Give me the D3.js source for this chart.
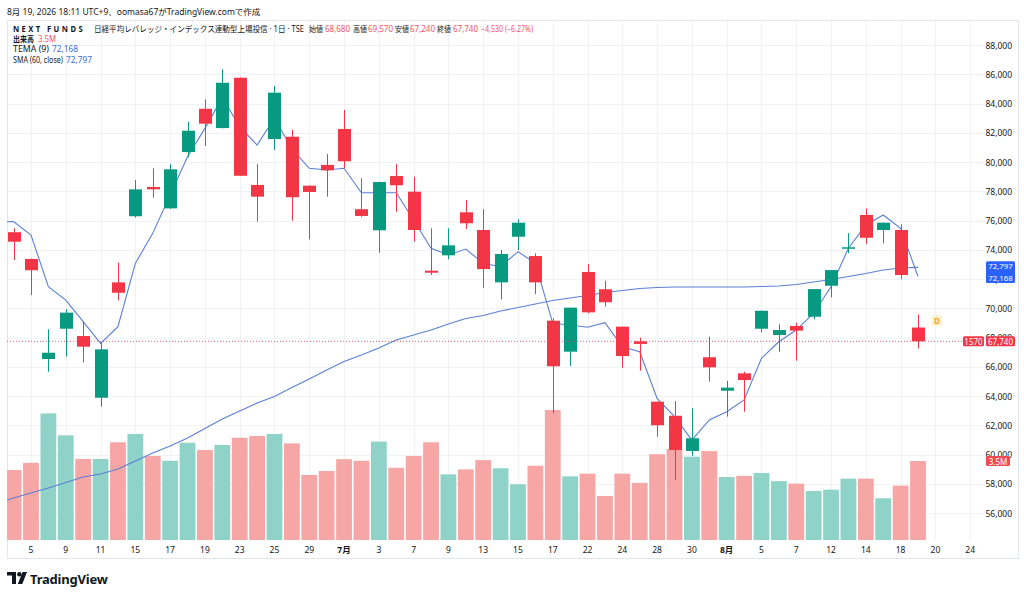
<!DOCTYPE html>
<head>
  <meta charset="utf-8">
  <script src="https://d3js.org/d3.v7.min.js"></script>
  <style>
    body { margin:0; background:#fff; }
    text { font-family: "Noto Sans", "Noto Sans CJK JP", sans-serif; }
  </style>
</head>
<body>
<script>

// 日付（取引日）
var dates = ["6/4","6/5","6/8","6/9","6/10","6/11","6/12","6/15","6/16","6/17",
  "6/18","6/19","6/22","6/23","6/24","6/25","6/26","6/29","6/30","7/1",
  "7/2","7/3","7/6","7/7","7/8","7/9","7/10","7/13","7/14","7/15",
  "7/16","7/17","7/21","7/22","7/23","7/24","7/27","7/28","7/29","7/30",
  "7/31","8/3","8/4","8/5","8/6","8/7","8/10","8/12","8/13","8/14",
  "8/17","8/18","8/19"];

var opens = [75200,73370,66530,68600,68100,63880,71770,76290,78290,76830,
  80680,83640,82320,85760,78430,81570,81730,78380,79800,82260,
  76770,75330,79040,77970,72570,73620,76560,75350,71770,74890,
  73570,69150,67030,72480,71300,68740,67740,63610,62650,60240,
  66650,64360,65550,68600,68170,68790,69420,71540,74100,76380,
  75350,75350,68680];
var highs = [75470,73400,68560,69930,69130,67640,73120,78770,79570,79860,
  82760,84290,86340,85780,79860,85200,82190,78400,80550,83560,
  78890,78650,79860,79000,75470,75470,77400,76770,73980,76080,
  73760,69310,70050,73030,71880,68750,67990,63620,63660,63160,
  68060,65030,65660,69840,68900,69010,71320,72620,75130,76830,
  75860,75740,69570];
var lows = [73300,70900,65660,66690,66300,63270,70520,76200,77560,76800,
  80320,81090,82300,79050,75920,80820,75990,74710,77630,79570,
  76250,73800,76600,74550,72270,73350,75420,71400,70610,73980,
  70970,62820,66050,69650,70110,65930,65730,61220,58260,59900,
  64980,62590,62930,68350,67030,66410,69240,70750,73760,74390,
  74440,71980,67240];
var closes = [74550,72600,66960,69700,67370,67190,71060,78130,78130,79500,
  82140,82620,85420,79060,77630,84740,77590,77950,79430,80050,
  76310,78630,78410,75350,72430,74300,75810,72680,73710,75850,
  71770,66030,70040,69720,70410,66730,67560,62000,60310,61110,
  65960,64570,65090,69830,68510,68470,71310,72610,74170,74820,
  75850,72270,67740];
// 出来高（百万）
var volumes = [3.10,3.42,5.61,4.64,3.59,3.59,4.33,4.70,3.72,3.51,
  4.31,3.99,4.21,4.53,4.61,4.70,4.28,2.88,3.06,3.58,
  3.51,4.36,3.20,3.72,4.33,2.91,3.13,3.54,3.18,2.47,
  3.29,5.76,2.82,2.94,1.95,2.94,2.53,3.80,4.03,3.69,
  3.94,2.79,2.84,2.97,2.61,2.50,2.17,2.23,2.72,2.72,
  1.85,2.41,3.50];
// TEMA(9) と SMA(60) : 先頭は1本前（6/3）の値
var tema = [75900,75920,75010,71470,70560,69080,67600,68740,73070,75120,
  77740,80360,82300,84400,82410,81160,83010,80890,79570,79450,
  79570,77900,77900,77900,76030,74100,73640,74050,73070,72840,
  73870,73070,68970,68860,68700,69010,67370,67030,63840,62590,
  60990,62360,62930,63730,66580,67710,68510,69660,71470,74100,
  75690,76380,75470,72168];
var sma = [56650,57030,57370,57710,58085,58460,58670,59010,59560,60100,
  60580,61130,61780,62430,62975,63520,63970,64580,65160,65780,
  66360,66800,67280,67830,68170,68510,68920,69300,69500,69810,
  70050,70290,70530,70700,70870,71080,71210,71350,71420,71450,
  71450,71450,71450,71450,71490,71520,71620,71800,71970,72170,
  72380,72620,72750,72797];

var priceTicks = d3.range(56000, 88001, 2000);
var timeTickIdx = d3.range(1, 56, 2);
var timeTickLabels = ["5","9","11","15","17","19","23","25","29","7月",
  "3","7","9","13","15","17","22","24","28","30",
  "8月","5","7","12","14","18","20","24"];

var upColor = "#089981", downColor = "#f23645";
var lineColor = "#5a7fd4";

var w = 1024, h = 596;
var plotLeft = 7, plotRight = 985, plotTop = 20, plotBottom = 540;

var xScale = d3.scaleLinear().domain([0, 52]).range([13.6, 918]);
var yScale = d3.scaleLinear().domain([56000, 88000]).range([513, 45]);
var vScale = d3.scaleLinear().domain([0, 6]).range([plotBottom, plotBottom - 135.4]);
var fmt = d3.format(",");

var svg = d3.select("body").append("svg")
    .attr("width", w)
    .attr("height", h);

svg.append("rect").attr("width", w).attr("height", h).attr("fill", "#fff");

svg.append("defs").append("clipPath").attr("id", "plot")
  .append("rect")
    .attr("x", plotLeft).attr("y", plotTop)
    .attr("width", plotRight - plotLeft).attr("height", plotBottom - plotTop);

// grille
var grid = svg.append("g").attr("stroke", "#f0f2f6").attr("stroke-width", 1);
grid.selectAll("line.h")
    .data(priceTicks)
    .enter().append("line")
    .attr("x1", plotLeft).attr("x2", plotRight)
    .attr("y1", function(d) { return Math.round(yScale(d)) + 0.5; })
    .attr("y2", function(d) { return Math.round(yScale(d)) + 0.5; });
grid.selectAll("line.v")
    .data(timeTickIdx)
    .enter().append("line")
    .attr("y1", plotTop).attr("y2", plotBottom)
    .attr("x1", function(d) { return Math.round(xScale(d)) + 0.5; })
    .attr("x2", function(d) { return Math.round(xScale(d)) + 0.5; });

// cadre
svg.append("rect")
    .attr("x", plotLeft + 0.5).attr("y", plotTop + 0.5)
    .attr("width", 1018 - plotLeft).attr("height", 558 - plotTop)
    .attr("fill", "none").attr("stroke", "#e3e6ec");

var plot = svg.append("g").attr("clip-path", "url(#plot)");

// volume
var idx = d3.range(dates.length);
plot.selectAll("rect.vol")
    .data(idx)
    .enter().append("rect")
    .attr("x", function(i) { return xScale(i) - 7.9; })
    .attr("width", 15.8)
    .attr("y", function(i) { return vScale(volumes[i]); })
    .attr("height", function(i) { return plotBottom - vScale(volumes[i]); })
    .attr("fill", function(i) { return closes[i] >= opens[i] ? "#8fd2c7" : "#f6a6a4"; });

// lignes SMA / TEMA
var line = d3.line()
    .x(function(d, j) { return xScale(j - 1); })
    .y(function(d) { return yScale(d); });
plot.append("path").datum(sma)
    .attr("d", line).attr("fill", "none")
    .attr("stroke", lineColor).attr("stroke-width", 1.1);
plot.append("path").datum(tema)
    .attr("d", line).attr("fill", "none")
    .attr("stroke", lineColor).attr("stroke-width", 1.1);

// bougies
var candles = plot.selectAll("g.candle")
    .data(idx)
    .enter().append("g")
    .attr("fill", function(i) { return closes[i] >= opens[i] ? upColor : downColor; })
    .attr("stroke", function(i) { return closes[i] >= opens[i] ? upColor : downColor; });
candles.append("line")
    .attr("x1", function(i) { return Math.round(xScale(i)) + 0.5; })
    .attr("x2", function(i) { return Math.round(xScale(i)) + 0.5; })
    .attr("y1", function(i) { return yScale(highs[i]); })
    .attr("y2", function(i) { return yScale(lows[i]); })
    .attr("stroke-width", 1);
candles.append("rect")
    .attr("stroke", "none")
    .attr("x", function(i) { return Math.round(xScale(i)) + 0.5 - 6.5; })
    .attr("width", 13)
    .attr("y", function(i) { return yScale(Math.max(opens[i], closes[i])); })
    .attr("height", function(i) {
        return Math.max(1.5, Math.abs(yScale(opens[i]) - yScale(closes[i])));
    });

// ligne du dernier cours
var last = closes.length - 1;
plot.append("line")
    .attr("x1", plotLeft).attr("x2", plotRight)
    .attr("y1", yScale(closes[last])).attr("y2", yScale(closes[last]))
    .attr("stroke", downColor).attr("stroke-width", 1)
    .attr("stroke-dasharray", "1,2").attr("opacity", 0.8);

// marqueur D (dividende)
svg.append("rect").attr("x", 932).attr("y", 315).attr("width", 10).attr("height", 11)
    .attr("rx", 2).attr("fill", "#fff0d4");
svg.append("text").attr("x", 937).attr("y", 320.5)
    .attr("text-anchor", "middle").attr("dominant-baseline", "central")
    .attr("font-size", 8).attr("font-weight", "bold").attr("fill", "#f7a21b").text("D");

// axe des prix
var yAxis = svg.append("g").attr("font-size", 8.5).attr("fill", "#131722");
yAxis.selectAll("text")
    .data(priceTicks)
    .enter().append("text")
    .attr("x", 1012)
    .attr("y", function(d) { return yScale(d); })
    .attr("text-anchor", "end")
    .attr("dominant-baseline", "central")
    .text(function(d) { return fmt(d); });

// axe du temps
var xAxis = svg.append("g").attr("font-size", 8.5).attr("fill", "#131722");
xAxis.selectAll("text")
    .data(timeTickIdx)
    .enter().append("text")
    .attr("x", function(d) { return xScale(d); })
    .attr("y", 549)
    .attr("text-anchor", "middle")
    .attr("dominant-baseline", "central")
    .attr("font-weight", function(d, j) { return timeTickLabels[j].indexOf("月") > 0 ? "bold" : "normal"; })
    .text(function(d, j) { return timeTickLabels[j]; });

// étiquettes sur l'axe
function tagBox(x, y0, wd, ht, col) {
    svg.append("rect").attr("x", x).attr("y", y0).attr("width", wd).attr("height", ht)
        .attr("rx", 1.5).attr("fill", col);
}
function tagText(x, y, txt, fs) {
    svg.append("text").attr("x", x).attr("y", y)
        .attr("text-anchor", "middle").attr("dominant-baseline", "central")
        .attr("font-size", fs || 8).attr("fill", "#fff").text(txt);
}
var ySma = yScale(sma[sma.length - 1]), yTema = yScale(tema[tema.length - 1]);
tagBox(986, ySma - 6, 29, yTema - ySma + 12.5, "#2962ff");
tagText(1000.5, ySma - 1.2, fmt(sma[sma.length - 1]), 7.8);
tagText(1000.5, yTema + 1.4, fmt(tema[tema.length - 1]), 7.8);
var yLast = yScale(closes[last]);
tagBox(963, yLast - 5, 21, 10, downColor);
tagText(973.5, yLast, "1570");
tagBox(986, yLast - 5, 29, 10, downColor);
tagText(1000.5, yLast, fmt(closes[last]));
tagBox(986, vScale(volumes[last]) - 5, 24, 10, "#ef4b55");
tagText(998, vScale(volumes[last]), volumes[last].toFixed(1) + "M");

// en-tête et légende
svg.append("text").attr("x", 7).attr("y", 11).attr("font-size", 8.5).attr("fill", "#131722")
    .attr("dominant-baseline", "central")
    .text("8月 19, 2026 18:11 UTC+9、oomasa67がTradingView.comで作成");

var red = "#f7525f", blue = "#3d6ce0";
// [x, y, texte, couleur, graisse, espacement, largeur]
var leg = [
  [13, 28, "NEXT FUNDS", "#131722", "bold", "2.6px", 72],
  [94, 28, "日経平均レバレッジ・インデックス連動型上場投信 · 1日 · TSE", "#131722", "normal", "0", 210],
  [309, 28, "始値", "#131722", "normal", "0", 14],
  [325, 28, fmt(opens[last]), red, "normal", "0", 25],
  [353, 28, "高値", "#131722", "normal", "0", 14],
  [368, 28, fmt(highs[last]), red, "normal", "0", 25],
  [395, 28, "安値", "#131722", "normal", "0", 14],
  [410, 28, fmt(lows[last]), red, "normal", "0", 25],
  [437, 28, "終値", "#131722", "normal", "0", 14],
  [453, 28, fmt(closes[last]), red, "normal", "0", 25],
  [481, 28, "−4,530 (−6.27%)", red, "normal", "0", 52],
  [13, 38, "出来高", "#131722", "bold", "0", 21],
  [38, 38, "3.5M", red, "normal", "0", 18],
  [13, 48, "TEMA (9)", "#131722", "normal", "0", 36],
  [52, 48, fmt(tema[tema.length - 1]), blue, "normal", "0", 26],
  [13, 59, "SMA (60, close)", "#131722", "normal", "0", 50],
  [66, 59, fmt(sma[sma.length - 1]), blue, "normal", "0", 26]
];
svg.append("g").selectAll("text")
    .data(leg)
    .enter().append("text")
    .attr("x", function(d) { return d[0]; })
    .attr("y", function(d) { return d[1]; })
    .attr("dominant-baseline", "central")
    .attr("font-size", 8.2)
    .attr("fill", function(d) { return d[3]; })
    .attr("font-weight", function(d) { return d[4]; })
    .attr("letter-spacing", function(d) { return d[5]; })
    .attr("textLength", function(d) { return d[6]; })
    .attr("lengthAdjust", "spacingAndGlyphs")
    .text(function(d) { return d[2]; });

// logo TradingView
var logo = svg.append("g").attr("fill", "#131722");
logo.append("path").attr("d", "M7,572 H16 V584 H12 V575.5 H7 Z");
logo.append("circle").attr("cx", 19.3).attr("cy", 574.2).attr("r", 2.2);
logo.append("path").attr("d", "M22.5,572 H27 L22.3,584 H17.8 Z");
svg.append("text").attr("x", 30).attr("y", 578.5).attr("dominant-baseline", "central")
    .attr("font-size", 13).attr("font-weight", "bold").attr("fill", "#131722")
    .attr("letter-spacing", "-0.2px")
    .text("TradingView");

</script>
</body>
